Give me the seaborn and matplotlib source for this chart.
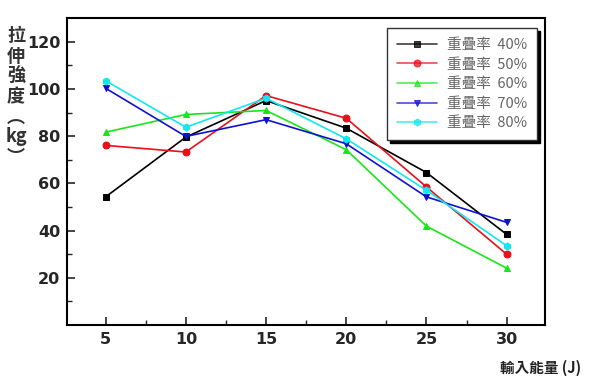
import matplotlib
matplotlib.use("Agg")
import matplotlib.pyplot as plt
import seaborn as sns
import pandas as pd

energy = [5, 10, 15, 20, 25, 30]
labels = ["重疊率  40%", "重疊率  50%", "重疊率  60%", "重疊率  70%", "重疊率  80%"]
s40 = [54.3, 79.6, 95.1, 83.4, 64.6, 38.4]
s50 = [76.1, 73.3, 97.2, 87.6, 58.5, 30.0]
s60 = [81.7, 89.2, 90.9, 74.3, 41.9, 24.1]
s70 = [100.3, 79.9, 87.0, 76.8, 54.3, 43.5]
s80 = [103.5, 83.8, 96.1, 78.9, 57.1, 33.6]
series = [s40, s50, s60, s70, s80]
colors = ["#000000", "#e8101a", "#19e619", "#1010d0", "#10e8f0"]
markers = ["s", "o", "^", "v", "h"]

sns.set_style("white")
plt.rcParams['font.family'] = ['Noto Sans CJK TC', 'DejaVu Sans']

fig = plt.figure(figsize=(6.16, 3.78), dpi=100)
ax = fig.add_axes([0.109, 0.140, 0.776, 0.812])

for vals, lab, c, m in zip(series, labels, colors, markers):
    df = pd.DataFrame({"x": energy, "y": vals})
    sns.lineplot(data=df, x="x", y="y", ax=ax, color=c, marker=m, markersize=5,
                 markeredgecolor=c, linewidth=1.2, label=lab)

ax.set_xlim(2.6, 32.4)
ax.set_ylim(0, 130)
ax.set_xticks(energy)
ax.set_xticks([7.5, 12.5, 17.5, 22.5, 27.5], minor=True)
ax.set_yticks([20, 40, 60, 80, 100, 120])
ax.set_yticks([10, 30, 50, 70, 90, 110], minor=True)
ax.tick_params(which='major', direction='in', length=6, width=1.2, labelsize=11.5, pad=5)
ax.tick_params(which='minor', direction='in', length=3.5, width=1.0)
ax.tick_params(axis='x', which='both', bottom=True)
ax.tick_params(axis='y', which='both', left=True)
for t in ax.get_xticklabels() + ax.get_yticklabels():
    t.set_fontweight('bold')
    t.set_family('DejaVu Sans')
for sp in ax.spines.values():
    sp.set_linewidth(1.5)
    sp.set_color('black')
ax.set_xlabel("")
ax.set_ylabel("")

fig.text(0.026, 0.93, "拉\n伸\n強\n度\n︵\nkg\n︶", ha='center', va='top',
         fontsize=13, fontweight='bold', color='#333', linespacing=1.08,
         family=['Noto Sans CJK TC', 'DejaVu Sans'])
fig.text(0.877, 0.005, "輸入能量 (J)", ha='center', va='bottom', fontsize=10.5,
         fontweight='bold', color='#222')

leg = ax.legend(loc='upper right', bbox_to_anchor=(0.99, 0.978), frameon=True,
                fancybox=False, shadow={'color': 'black', 'alpha': 1.0},
                fontsize=10.5, handlelength=2.7, labelspacing=0.38,
                borderpad=0.7, handletextpad=0.7, borderaxespad=0.2)
leg.get_frame().set_edgecolor('#333')
leg.get_frame().set_linewidth(1.0)
for t in leg.get_texts():
    t.set_color('#666')
for h in leg.legend_handles:
    h.set_alpha(0.75)

fig.savefig("out.png", dpi=100)
